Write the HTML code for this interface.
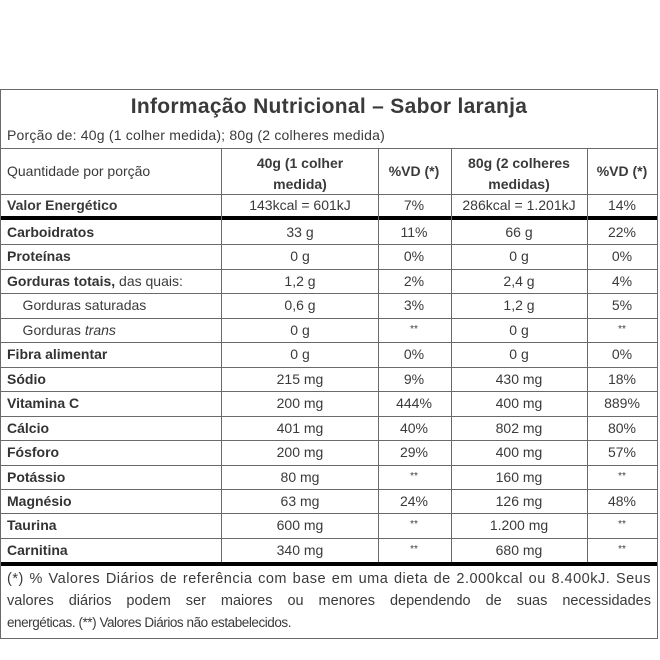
<!DOCTYPE html>
<html><head><meta charset="utf-8"><style>
body{margin:0;background:#fff;width:660px;height:660px;position:relative;overflow:hidden;font-family:"Liberation Sans",sans-serif;color:#3a3a3a}
.h{position:absolute;height:1px;background:#6a6a6a}
.v{position:absolute;width:1px;background:#6a6a6a}
.t{position:absolute;font-size:14px;line-height:16px;white-space:nowrap}
.c{transform:translateX(-50%)}
b{color:#333}
.j{position:absolute;left:7px;width:644px;font-size:14.5px;line-height:16px;white-space:nowrap;text-align:justify;text-align-last:justify}
</style></head><body>
<div class="h" style="left:0;top:89px;width:658px"></div>
<div class="h" style="left:0;top:148px;width:658px"></div>
<div class="h" style="left:0;top:194px;width:658px"></div>
<div class="h" style="left:0;top:216px;width:658px;height:4px;background:#000"></div>
<div class="h" style="left:0;top:562px;width:658px;height:4px;background:#000"></div>
<div class="h" style="left:0;top:638px;width:658px"></div>
<div class="v" style="left:0;top:89px;height:550px"></div>
<div class="v" style="left:657px;top:89px;height:550px"></div>
<div class="v" style="left:221px;top:148px;height:414px"></div>
<div class="v" style="left:378px;top:148px;height:414px"></div>
<div class="v" style="left:451px;top:148px;height:414px"></div>
<div class="v" style="left:587px;top:148px;height:414px"></div>
<div class="t c" style="left:329px;top:95px;font-size:21px;line-height:24px;font-weight:bold;color:#3a3a3a;letter-spacing:0.3px">Informação Nutricional – Sabor laranja</div>
<div class="t" style="left:7px;top:127px;letter-spacing:0.2px">Porção de: 40g (1 colher medida); 80g (2 colheres medida)</div>
<div class="t" style="left:7px;top:163px">Quantidade por porção</div>
<div class="t c" style="left:300px;top:153px;text-align:center;font-weight:bold;line-height:21px">40g (1 colher<br>medida)</div>
<div class="t c" style="left:414px;top:163px;font-weight:bold">%VD (*)</div>
<div class="t c" style="left:519px;top:153px;text-align:center;font-weight:bold;line-height:21px">80g (2 colheres<br>medidas)</div>
<div class="t c" style="left:622px;top:163px;font-weight:bold">%VD (*)</div>
<div class="t" style="left:7px;top:197px;font-weight:bold">Valor Energético</div>
<div class="t c" style="left:300px;top:197px">143kcal = 601kJ</div>
<div class="t c" style="left:414px;top:197px">7%</div>
<div class="t c" style="left:519px;top:197px">286kcal = 1.201kJ</div>
<div class="t c" style="left:622px;top:197px">14%</div>
<div id="rows"></div>
<script>
var d=[["<b>Carboidratos</b>","33 g","11%","66 g","22%"],["<b>Proteínas</b>","0 g","0%","0 g","0%"],["<b>Gorduras totais,</b> das quais:","1,2 g","2%","2,4 g","4%"],["&nbsp;&nbsp;&nbsp;&nbsp;Gorduras saturadas","0,6 g","3%","1,2 g","5%"],["&nbsp;&nbsp;&nbsp;&nbsp;Gorduras <i>trans</i>","0 g","**","0 g","**"],["<b>Fibra alimentar</b>","0 g","0%","0 g","0%"],["<b>Sódio</b>","215 mg","9%","430 mg","18%"],["<b>Vitamina C</b>","200 mg","444%","400 mg","889%"],["<b>Cálcio</b>","401 mg","40%","802 mg","80%"],["<b>Fósforo</b>","200 mg","29%","400 mg","57%"],["<b>Potássio</b>","80 mg","**","160 mg","**"],["<b>Magnésio</b>","63 mg","24%","126 mg","48%"],["<b>Taurina</b>","600 mg","**","1.200 mg","**"],["<b>Carnitina</b>","340 mg","**","680 mg","**"]];
var h="",cx=[300,414,519,622];
for(var i=0;i<d.length;i++){var y=220+i*24.45;
if(i>0)h+='<div class="h" style="left:0;top:'+Math.round(y)+'px;width:658px"></div>';
var ty=Math.round(y+4);
h+='<div class="t" style="left:7px;top:'+ty+'px">'+d[i][0]+'</div>';
for(var j=1;j<5;j++){var s=d[i][j]=="**"?'font-size:10px;':'';h+='<div class="t c" style="left:'+cx[j-1]+'px;top:'+ty+'px;'+s+'">'+d[i][j]+'</div>';}}
document.getElementById("rows").innerHTML=h;
</script>
<div class="j" style="top:571px;letter-spacing:0.5px">(*) % Valores Diários de referência com base em uma dieta de 2.000kcal ou 8.400kJ. Seus</div>
<div class="j" style="top:593px">valores diários podem ser maiores ou menores dependendo de suas necessidades</div>
<div class="j" style="top:615px;text-align-last:left;font-size:13.5px;letter-spacing:-0.45px">energéticas. (**) Valores Diários não estabelecidos.</div>
</body></html>
